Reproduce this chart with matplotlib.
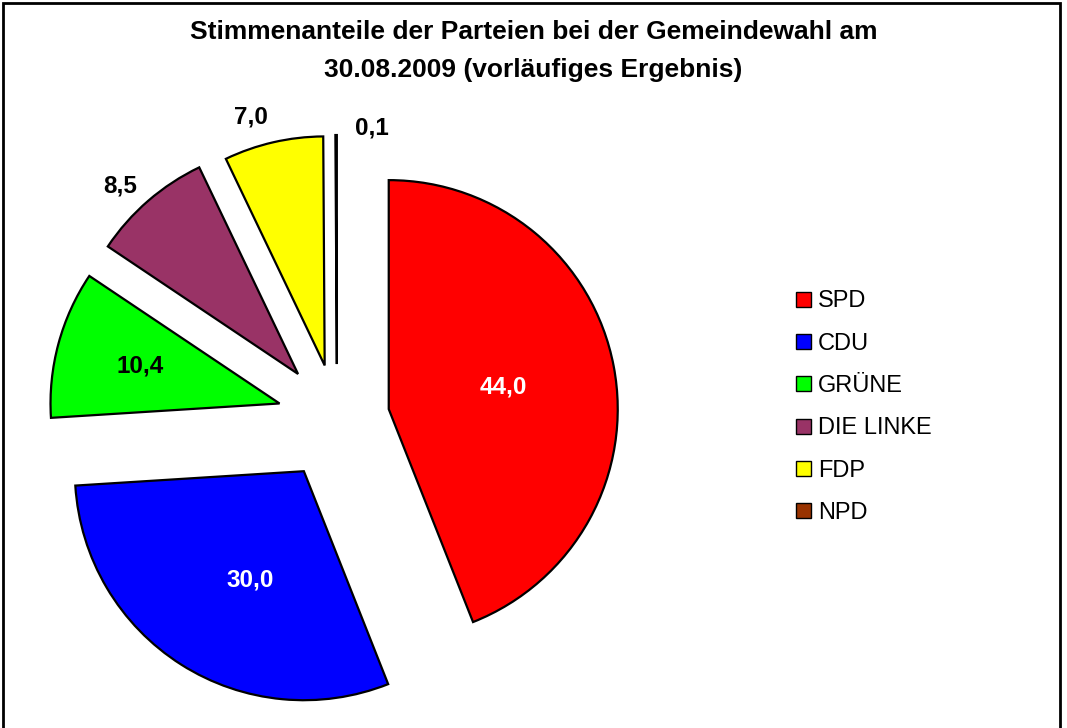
import matplotlib
matplotlib.use("Agg")
import numpy as np
import matplotlib.pyplot as plt
import matplotlib.patches as mpatches

plt.rcParams["font.family"] = ["Liberation Sans", "DejaVu Sans"]

# ── Data ───────────────────────────────────────────────────
parties = ["SPD", "CDU", "GRÜNE", "DIE LINKE", "FDP", "NPD"]
shares = [44.0, 30.0, 10.4, 8.5, 7.0, 0.1]
value_labels = ["44,0", "30,0", "10,4", "8,5", "7,0", "0,1"]
colors = ["#ff0000", "#0000ff", "#00ff00", "#993366", "#ffff00", "#993300"]

# label placement (radius from pie centre, angle tweak in degrees) and text colour
label_r = [0.74, 0.80, 0.89, 1.39, 1.37, 1.28]
label_dang = [0, 4, 0, 2, 3, -7]
label_col = ["white", "white", "black", "black", "black", "black"]
explode = [0.23, 0.27, 0.26, 0.26, 0.24, 0.24]

W, H = 1067, 728
R_PX = 229.0
CX, CY = 337.0, 419.0   # pie centre in pixels (from top-left)

fig = plt.figure(figsize=(W / 100, H / 100), dpi=100, facecolor="white")
ax = fig.add_axes([0, 0, 1, 1])

wedges, _ = ax.pie(
    shares, colors=colors, explode=explode, startangle=90, counterclock=False,
    radius=1.0, wedgeprops=dict(edgecolor="black", linewidth=1.6),
)
ax.set_xlim(-CX / R_PX, (W - CX) / R_PX)
ax.set_ylim(-(H - CY) / R_PX, CY / R_PX)
ax.axis("off")

for w, txt, r, da, col in zip(wedges, value_labels, label_r, label_dang, label_col):
    mid = np.deg2rad((w.theta1 + w.theta2) / 2 + da)
    ax.text(r * np.cos(mid), r * np.sin(mid), txt, ha="center", va="center",
            fontsize=17.5, fontweight="bold", color=col)

# ── Title ──────────────────────────────────────────────────
fig.text(0.5, 1 - 32 / H, "Stimmenanteile der Parteien bei der Gemeindewahl am",
         ha="center", va="center", fontsize=19, fontweight="bold")
fig.text(0.5, 1 - 70 / H, "30.08.2009 (vorläufiges Ergebnis)",
         ha="center", va="center", fontsize=19, fontweight="bold")

# ── Legend ─────────────────────────────────────────────────
handles = [mpatches.Patch(facecolor=c, edgecolor="black", linewidth=1.0, label=p)
           for p, c in zip(parties, colors)]
fig.legend(handles=handles, loc="upper left", bbox_to_anchor=(787 / W, 1 - 281 / H),
           frameon=False, fontsize=17, handlelength=0.6, handleheight=0.6,
           handletextpad=0.3, labelspacing=0.86, borderaxespad=0)

# ── Frame ──────────────────────────────────────────────────
fig.patches.append(mpatches.Rectangle(
    (3 / W, -0.02), (1060 - 3) / W, 1 - 3 / H + 0.02, transform=fig.transFigure,
    fill=False, edgecolor="black", linewidth=2.0,
))

fig.savefig("out.png", dpi=100, facecolor="white")
